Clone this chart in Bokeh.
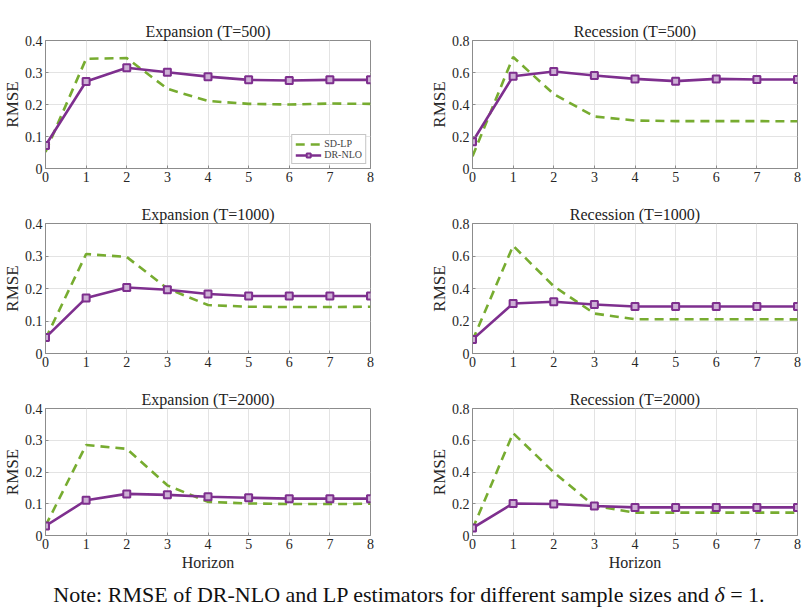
from bokeh.plotting import figure
from bokeh.models import Range1d, FixedTicker, CustomJSTickFormatter, Legend, LegendItem, Div, Title
from bokeh.layouts import column, row
from bokeh.embed import file_html
from bokeh.resources import INLINE

horizon = [0, 1, 2, 3, 4, 5, 6, 7, 8]

exp500_sdlp = [0.052, 0.343, 0.345, 0.249, 0.211, 0.202, 0.200, 0.203, 0.202]
exp500_drnlo = [0.072, 0.272, 0.315, 0.301, 0.287, 0.277, 0.275, 0.277, 0.277]
rec500_sdlp = [0.076, 0.697, 0.465, 0.325, 0.300, 0.296, 0.296, 0.296, 0.295]
rec500_drnlo = [0.167, 0.577, 0.606, 0.581, 0.560, 0.546, 0.560, 0.556, 0.556]
exp1000_sdlp = [0.045, 0.306, 0.297, 0.200, 0.149, 0.144, 0.143, 0.143, 0.144]
exp1000_drnlo = [0.049, 0.171, 0.203, 0.196, 0.183, 0.177, 0.177, 0.177, 0.177]
rec1000_sdlp = [0.080, 0.663, 0.414, 0.246, 0.211, 0.211, 0.211, 0.211, 0.210]
rec1000_drnlo = [0.086, 0.308, 0.318, 0.302, 0.289, 0.289, 0.289, 0.289, 0.289]
exp2000_sdlp = [0.030, 0.285, 0.273, 0.158, 0.106, 0.101, 0.099, 0.099, 0.100]
exp2000_drnlo = [0.030, 0.111, 0.131, 0.128, 0.122, 0.119, 0.116, 0.116, 0.116]
rec2000_sdlp = [0.040, 0.645, 0.398, 0.186, 0.144, 0.144, 0.144, 0.144, 0.144]
rec2000_drnlo = [0.047, 0.202, 0.198, 0.186, 0.177, 0.177, 0.177, 0.177, 0.177]

titles = ["Expansion (T=500)", "Recession (T=500)",
          "Expansion (T=1000)", "Recession (T=1000)",
          "Expansion (T=2000)", "Recession (T=2000)"]
series = [(exp500_sdlp, exp500_drnlo), (rec500_sdlp, rec500_drnlo),
          (exp1000_sdlp, exp1000_drnlo), (rec1000_sdlp, rec1000_drnlo),
          (exp2000_sdlp, exp2000_drnlo), (rec2000_sdlp, rec2000_drnlo)]
ymax = [0.4, 0.8, 0.4, 0.8, 0.4, 0.8]
labels = ["SD-LP", "DR-NLO"]
y_label = "RMSE"
x_label = "Horizon"

FONT = "Liberation Serif"
GREEN = "#77AC30"
PURPLE = "#7E2F8E"

row_specs = [  # (height, top, bottom)
    (195, 40, 27),
    (185, 28, 27),
    (195, 28, 40),
]
col_specs = [  # (width, left, right)
    (404, 44, 34),
    (404, 68, 11),
]


def side_title(text, size):
    t = Title(text=text, align="center", text_font=FONT, text_font_size=size,
              text_font_style="normal", text_color="#262626", standoff=0, offset=0)
    return t


figs = []
for i in range(6):
    r, c = divmod(i, 2)
    h, bt, bb = row_specs[r]
    w, bl, br = col_specs[c]
    ym = ymax[i]
    p = figure(width=w, height=h, output_backend="svg", toolbar_location=None,
               x_range=Range1d(0, 8), y_range=Range1d(0, ym),
               min_border_left=bl, min_border_right=br,
               min_border_top=bt, min_border_bottom=bb)
    p.title.text = titles[i]
    p.title.text_font = FONT
    p.title.text_font_size = "16px"
    p.title.text_font_style = "normal"
    p.title.align = "center"
    p.title.text_color = "#222222"
    p.title.standoff = 2
    p.outline_line_color = "#8c8c8c"
    p.outline_line_alpha = 1.0
    p.background_fill_color = "white"
    p.border_fill_color = "white"
    p.xaxis.ticker = FixedTicker(ticks=horizon)
    step = ym / 4
    p.yaxis.ticker = FixedTicker(ticks=[round(k * step, 2) for k in range(5)])
    p.yaxis.formatter = CustomJSTickFormatter(code="return tick == 0 ? '0' : tick.toFixed(1);")
    for ax in (p.xaxis[0], p.yaxis[0]):
        ax.axis_line_color = "#8c8c8c"
        ax.major_tick_in = 3
        ax.major_tick_out = 0
        ax.major_tick_line_color = "#8c8c8c"
        ax.minor_tick_line_color = None
        ax.major_label_text_font = FONT
        ax.major_label_text_font_size = "14px"
        ax.major_label_text_color = "#262626"
    p.xaxis.major_label_standoff = 3
    p.yaxis.major_label_standoff = 3
    p.add_layout(side_title(y_label, "17px"), "left")
    if r == 2:
        p.add_layout(side_title(x_label, "16px"), "below")
    p.grid.grid_line_color = "#e3e3e3"
    p.grid.grid_line_width = 1

    sd, dr = series[i]
    l1 = p.line(horizon, sd, line_color=GREEN, line_width=2.6, line_dash="9 6")
    l2 = p.line(horizon, dr, line_color=PURPLE, line_width=2.6)
    m2 = p.scatter(horizon, dr, marker="square", size=7, line_color=PURPLE,
                   line_width=2, fill_color="#cdb0d5")
    if i == 0:
        leg = Legend(items=[LegendItem(label=labels[0], renderers=[l1]),
                            LegendItem(label=labels[1], renderers=[l2, m2])],
                     location="bottom_right")
        leg.label_text_font = FONT
        leg.label_text_font_size = "10px"
        leg.label_height = 10
        leg.glyph_height = 10
        leg.glyph_width = 26
        leg.spacing = 0
        leg.padding = 3
        leg.margin = 4
        leg.label_standoff = 3
        leg.border_line_color = "#8c8c8c"
        leg.background_fill_alpha = 1.0
        p.add_layout(leg)
    figs.append(p)

note = Div(text="Note: RMSE of DR-NLO and LP estimators for different sample sizes and <i>&delta;</i>&nbsp;=&nbsp;1.",
           width=808, height=33,
           styles={"font-family": FONT, "font-size": "22px", "text-align": "center",
                   "width": "808px", "color": "#111111", "line-height": "30px"})

layout = column(row(figs[0], figs[1]), row(figs[2], figs[3]), row(figs[4], figs[5]), note)

open("out.html", "w").write(file_html(layout, INLINE))
